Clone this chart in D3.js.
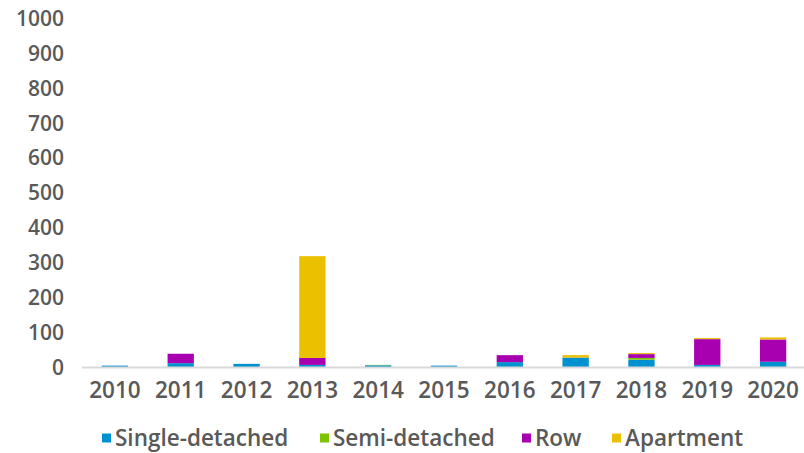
<!DOCTYPE html>
<html>
<head>
<meta charset="utf-8">
<script src="https://cdn.jsdelivr.net/npm/d3@7"></script>
<style>
  body { margin: 0; background: #fff; }
  text { font-family: "Open Sans", sans-serif; font-weight: 600; fill: #595959; }
</style>
</head>
<body>
<div id="chart"></div>
<script>
var years = ["2010", "2011", "2012", "2013", "2014", "2015", "2016", "2017", "2018", "2019", "2020"];
var seriesNames = ["Single-detached", "Semi-detached", "Row", "Apartment"];
var singleDetached = [4, 11, 9, 6, 5, 4, 14, 27, 21, 6, 15];
var semiDetached = [0, 0, 0, 0, 1, 0, 0, 0, 5, 0, 0];
var row = [0, 27, 0, 20, 0, 0, 20, 0, 11, 74, 64];
var apartment = [0, 0, 0, 292, 0, 0, 0, 7, 3, 3, 6];
var yTicks = [0, 100, 200, 300, 400, 500, 600, 700, 800, 900, 1000];
var colors = ["#0091d0", "#7dc400", "#a800b0", "#ebc000"];

var svgWidth = 804;
var svgHeight = 453;

var svg = d3.select("#chart")
    .append("svg")
    .attr("width", svgWidth)
    .attr("height", svgHeight);

var rows = years.map(function (y, i) {
    return {
        year: y,
        "Single-detached": singleDetached[i],
        "Semi-detached": semiDetached[i],
        "Row": row[i],
        "Apartment": apartment[i]
    };
});

var stacked = d3.stack().keys(seriesNames)(rows);

var xScale = d3.scaleBand()
    .domain(years)
    .range([82, 806])
    .paddingInner(0.6)
    .paddingOuter(0.3);

var yScale = d3.scaleLinear()
    .domain([0, 1000])
    .range([367, 18.5]);

// y tick labels
svg.append("g")
    .selectAll("text")
    .data(yTicks)
    .enter()
    .append("text")
    .attr("x", 64)
    .attr("y", d => yScale(d))
    .attr("dy", "0.36em")
    .attr("text-anchor", "end")
    .attr("font-size", "21px")
    .text(d => d);

// bars
svg.append("g")
    .selectAll("g")
    .data(stacked)
    .enter()
    .append("g")
    .attr("fill", (d, i) => colors[i])
    .selectAll("rect")
    .data(d => d)
    .enter()
    .append("rect")
    .attr("x", d => xScale(d.data.year))
    .attr("y", d => yScale(d[1]))
    .attr("width", xScale.bandwidth())
    .attr("height", d => yScale(d[0]) - yScale(d[1]));

// baseline
svg.append("line")
    .attr("x1", 82)
    .attr("x2", 804)
    .attr("y1", yScale(0) + 0.5)
    .attr("y2", yScale(0) + 0.5)
    .attr("stroke", "#d9d9d9")
    .attr("stroke-width", 2);

// x labels
svg.append("g")
    .selectAll("text")
    .data(years)
    .enter()
    .append("text")
    .attr("x", d => xScale(d) + xScale.bandwidth() / 2)
    .attr("y", 390)
    .attr("dy", "0.36em")
    .attr("text-anchor", "middle")
    .attr("font-size", "22.5px")
    .text(d => d);

// legend
var legendX = [102, 320, 522, 612];
var legend = svg.append("g")
    .selectAll("g")
    .data(seriesNames)
    .enter()
    .append("g")
    .attr("transform", (d, i) => `translate(${legendX[i]}, 438)`);

legend.append("rect")
    .attr("x", 0)
    .attr("y", -4.5)
    .attr("width", 9)
    .attr("height", 9)
    .attr("fill", (d, i) => colors[i]);

legend.append("text")
    .attr("x", 13)
    .attr("y", 0)
    .attr("dy", "0.36em")
    .attr("font-size", "22.5px")
    .text(d => d);
</script>
</body>
</html>
